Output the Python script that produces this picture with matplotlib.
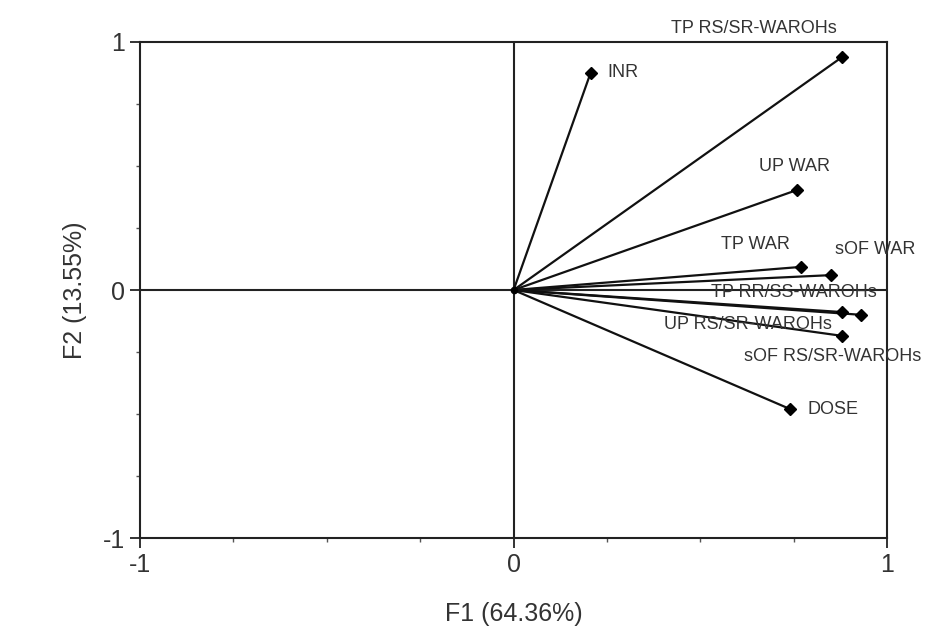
import matplotlib
matplotlib.use("Agg")
import matplotlib.pyplot as plt
from matplotlib.ticker import MultipleLocator

plt.rcParams['font.family'] = ['Liberation Sans', 'DejaVu Sans']
plt.rcParams['axes.unicode_minus'] = False

# variable loadings on F1 / F2
variables = ["INR", "TP RS/SR-WAROHs", "UP WAR", "TP WAR", "sOF WAR",
             "TP RR/SS-WAROHs", "UP RS/SR-WAROHs", "sOF RS/SR-WAROHs", "DOSE"]
f1 = [0.206, 0.88, 0.758, 0.768, 0.849, 0.93, 0.88, 0.88, 0.74]
f2 = [0.875, 0.94, 0.403, 0.093, 0.06, -0.10, -0.089, -0.185, -0.48]

# label centre positions, data units
label_x = [0.293, 0.643, 0.752, 0.647, 0.967, 0.750, 0.628, 0.853, 0.854]
label_y = [0.875, 1.056, 0.496, 0.185, 0.165, -0.012, -0.141, -0.27, -0.48]

fig = plt.figure(figsize=(9.3, 6.36), dpi=100)
ax = fig.add_axes([0.1505, 0.154, 0.8035, 0.78])

ax.axhline(0, color="#222222", lw=1.5, zorder=1)
ax.axvline(0, color="#222222", lw=1.5, zorder=1)

for x, y in zip(f1, f2):
    ax.plot([0, x], [0, y], color="#111111", lw=1.6, zorder=2)
ax.plot(f1, f2, linestyle="none", marker="D", color="black", markersize=6.5, zorder=3)
ax.plot([0], [0], marker="o", color="black", markersize=4.5, zorder=3)

for name, tx, ty in zip(variables, label_x, label_y):
    ax.text(tx, ty, name, fontsize=13, color="#333333", ha="center", va="center",
            clip_on=False)

ax.set_xlim(-1, 1)
ax.set_ylim(-1, 1)
ax.xaxis.set_major_locator(MultipleLocator(1))
ax.yaxis.set_major_locator(MultipleLocator(1))
ax.xaxis.set_minor_locator(MultipleLocator(0.25))
ax.yaxis.set_minor_locator(MultipleLocator(0.25))
ax.tick_params(which="major", length=7, width=1.4, pad=4, labelsize=18, colors="#333333")
ax.tick_params(which="minor", length=3, width=1.0, colors="#555555")
for sp in ax.spines.values():
    sp.set_linewidth(1.5)
    sp.set_color("#222222")

ax.set_xlabel("F1 (64.36%)", fontsize=18, color="#333333", labelpad=18)
ax.set_ylabel("F2 (13.55%)", fontsize=18, color="#333333", labelpad=11)

fig.savefig("out.png", dpi=100)
